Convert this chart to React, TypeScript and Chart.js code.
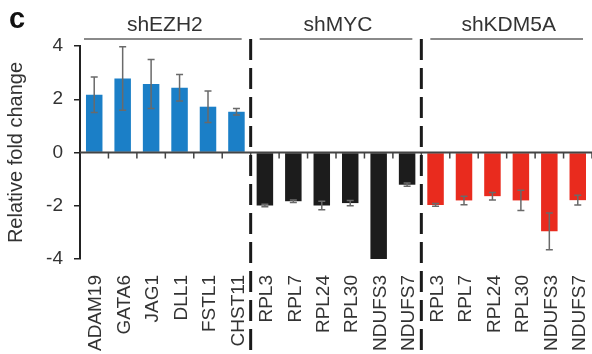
import React, { useEffect, useRef } from "react";
import { Chart, registerables } from "chart.js";

Chart.register(...registerables);

const categories = [
  "ADAM19", "GATA6", "JAG1", "DLL1", "FSTL1", "CHST11",
  "RPL3", "RPL7", "RPL24", "RPL30", "NDUFS3", "NDUFS7",
  "RPL3", "RPL7", "RPL24", "RPL30", "NDUFS3", "NDUFS7",
];

const groupNames = ["shEZH2", "shMYC", "shKDM5A"];
const groupSizes = [6, 6, 6];
const groupColors = ["#1b7fc7", "#1c1c1c", "#e92b1e"];

const shEZH2Values = [2.17, 2.78, 2.57, 2.43, 1.72, 1.53];
const shEZH2Errors = [0.67, 1.19, 0.92, 0.5, 0.59, 0.12];
const shMYCValues = [-1.99, -1.83, -1.99, -1.9, -4.0, -1.21];
const shMYCErrors = [0.05, 0.05, 0.16, 0.1, 0, 0.06];
const shKDM5AValues = [-1.97, -1.8, -1.64, -1.8, -2.96, -1.79];
const shKDM5AErrors = [0.05, 0.16, 0.14, 0.38, 0.69, 0.18];

const yTicks = [-4, -2, 0, 2, 4];

const values = [...shEZH2Values, ...shMYCValues, ...shKDM5AValues];
const errors = [...shEZH2Errors, ...shMYCErrors, ...shKDM5AErrors];
const barColors: string[] = [];
groupSizes.forEach((n, g) => {
  for (let i = 0; i < n; i++) barColors.push(groupColors[g]);
});

const FONT = "'Liberation Sans', Arial, Helvetica, sans-serif";

const overlay = {
  id: "overlay",
  afterDatasetsDraw(chart: any) {
    const { ctx, chartArea } = chart;
    const x = chart.scales.x;
    const y = chart.scales.y;
    const half = (x.getPixelForValue(1) - x.getPixelForValue(0)) / 2;
    ctx.save();

    // error bars
    ctx.strokeStyle = "#6a6a6a";
    ctx.lineWidth = 1.5;
    values.forEach((v, i) => {
      const e = errors[i];
      if (!e) return;
      const px = x.getPixelForValue(i);
      const t = y.getPixelForValue(v + e);
      const b = y.getPixelForValue(v - e);
      ctx.beginPath();
      ctx.moveTo(px, t);
      ctx.lineTo(px, b);
      ctx.moveTo(px - 3.5, t);
      ctx.lineTo(px + 3.5, t);
      ctx.moveTo(px - 3.5, b);
      ctx.lineTo(px + 3.5, b);
      ctx.stroke();
    });

    // zero line and ticks
    const y0 = y.getPixelForValue(0);
    ctx.strokeStyle = "#444";
    ctx.lineWidth = 2;
    ctx.beginPath();
    ctx.moveTo(chartArea.left, y0);
    ctx.lineTo(chartArea.right, y0);
    ctx.stroke();
    ctx.lineWidth = 1.5;
    ctx.beginPath();
    for (let i = 1; i <= categories.length; i++) {
      const bx = x.getPixelForValue(i) - half;
      ctx.moveTo(bx, y0);
      ctx.lineTo(bx, y0 + 6);
    }
    ctx.stroke();

    // group headers and separators
    let start = 0;
    groupSizes.forEach((n, g) => {
      const l = x.getPixelForValue(start) - half;
      const r = x.getPixelForValue(start + n - 1) + half;
      const ls = g === 0 ? l + 4 : l + 9;
      const re = r - 9;
      ctx.strokeStyle = "#8a8a8a";
      ctx.lineWidth = 2;
      ctx.beginPath();
      ctx.moveTo(ls, 39);
      ctx.lineTo(re, 39);
      ctx.stroke();
      ctx.fillStyle = "#333";
      ctx.font = `21px ${FONT}`;
      ctx.textAlign = "center";
      ctx.textBaseline = "alphabetic";
      ctx.fillText(groupNames[g], (ls + re) / 2 + 2, 31);
      if (g > 0) {
        ctx.strokeStyle = "#1a1a1a";
        ctx.lineWidth = 3;
        ctx.setLineDash([21, 8]);
        ctx.beginPath();
        ctx.moveTo(l, 39);
        ctx.lineTo(l, chart.height);
        ctx.stroke();
        ctx.setLineDash([]);
      }
      start += n;
    });

    // panel letter
    ctx.fillStyle = "#111";
    ctx.font = `bold 29px ${FONT}`;
    ctx.textAlign = "left";
    ctx.fillText("c", 9, 28);
    ctx.restore();
  },
};

export default function App() {
  const ref = useRef<HTMLCanvasElement | null>(null);
  useEffect(() => {
    if (!ref.current) return;
    const chart = new Chart(ref.current, {
      type: "bar",
      data: {
        labels: categories,
        datasets: [
          {
            data: values,
            backgroundColor: barColors,
            borderWidth: 0,
            barPercentage: 0.58,
            categoryPercentage: 1,
          },
        ],
      },
      options: {
        animation: false,
        responsive: true,
        maintainAspectRatio: false,
        layout: { padding: { top: 46, right: 0, left: 0, bottom: 0 } },
        plugins: {
          legend: { display: false },
          tooltip: { enabled: false },
        },
        scales: {
          x: {
            grid: { display: false },
            border: { display: false },
            ticks: {
              autoSkip: false,
              minRotation: 90,
              maxRotation: 90,
              padding: 8,
              labelOffset: 2,
              color: "#333",
              font: { family: FONT, size: 19 },
            },
            afterFit: (s: any) => {
              s.height = 95;
              s.paddingLeft = 0;
              s.paddingRight = 0;
            },
          },
          y: {
            min: -4,
            max: 4,
            afterBuildTicks: (s: any) => {
              s.ticks = yTicks.map((v) => ({ value: v }));
            },
            grid: {
              drawOnChartArea: false,
              drawTicks: true,
              tickLength: 6,
              color: "#222",
              lineWidth: 1.5,
            },
            border: { display: true, color: "#222", width: 2 },
            ticks: {
              padding: 11,
              color: "#333",
              font: { family: FONT, size: 19 },
            },
            title: {
              display: true,
              text: "Relative fold change",
              color: "#333",
              font: { family: FONT, size: 20 },
              padding: { top: 4, bottom: 0 },
            },
            afterFit: (s: any) => {
              s.width = 80;
            },
          },
        },
      },
      plugins: [overlay],
    });
    return () => chart.destroy();
  }, []);
  return (
    <div style={{ position: "absolute", left: 0, top: 0, width: 592, height: 354 }}>
      <canvas ref={ref} />
    </div>
  );
}
